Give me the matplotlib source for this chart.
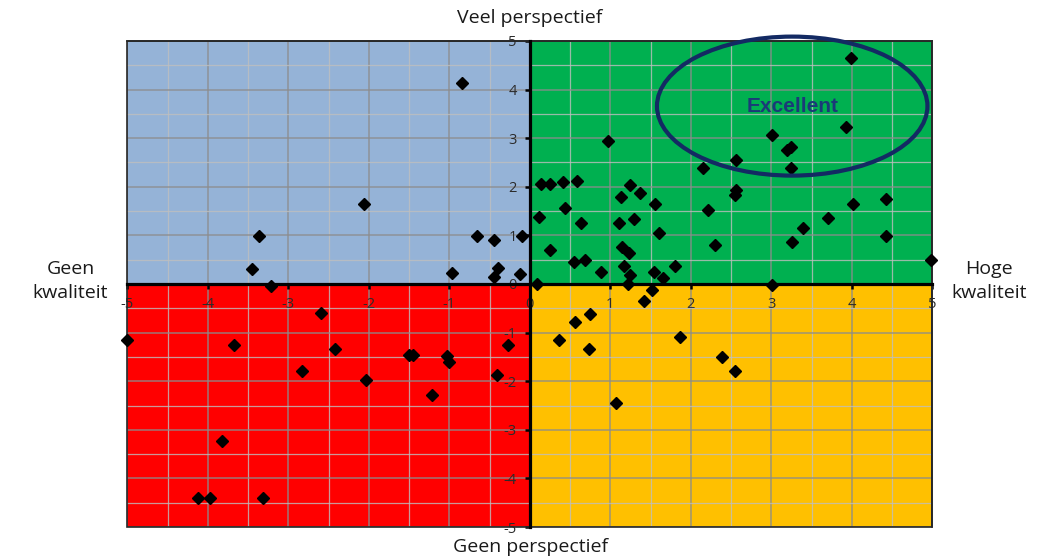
import matplotlib
matplotlib.use("Agg")
import matplotlib.pyplot as plt
from matplotlib.patches import Rectangle, Ellipse
from matplotlib.ticker import MultipleLocator

plt.rcParams['axes.unicode_minus'] = False

# ---- data ----
x_vals = [
    # upper-left
    -0.84, -2.06, -3.37, -3.45, -0.97, -0.65, -0.44, -0.39, -0.44, -0.10, -0.12, -3.22,
    # upper-right
    3.99, 3.93, 3.01, 3.19, 3.24, 3.24, 2.56, 2.15, 0.97, 0.145, 0.245, 0.41, 0.59,
    0.44, 0.11, 0.64, 0.245, 0.55, 0.68, 0.89, 1.13, 1.25, 1.37, 1.11, 1.29, 1.15,
    1.23, 1.17, 1.24, 1.56, 1.61, 1.54, 1.65, 1.81, 2.21, 2.30, 2.55, 2.56, 3.71,
    3.39, 3.26, 4.02, 4.42, 4.43, 4.99, 0.095,
    # lower-right
    1.22, 1.52, 1.42, 3.01, 0.75, 0.56, 0.36, 0.74, 1.87, 2.39, 2.55, 1.07,
    # lower-left
    -5.0, -3.67, -2.60, -2.42, -2.83, -2.04, -1.50, -1.45, -1.03, -1.01, -1.22,
    -0.41, -0.27, -3.82, -4.12, -3.97, -3.32,
]
y_vals = [
    4.14, 1.64, 0.99, 0.30, 0.23, 0.99, 0.91, 0.32, 0.15, 0.99, 0.21, -0.04,
    4.64, 3.24, 3.06, 2.76, 2.81, 2.39, 2.55, 2.39, 2.94, 2.06, 2.06, 2.09, 2.12,
    1.56, 1.38, 1.26, 0.69, 0.45, 0.50, 0.24, 1.79, 2.03, 1.88, 1.25, 1.34, 0.77,
    0.64, 0.38, 0.19, 1.65, 1.04, 0.24, 0.13, 0.38, 1.52, 0.81, 1.84, 1.93, 1.35,
    1.15, 0.86, 1.64, 1.74, 0.99, 0.50, 0.0,
    -0.01, -0.12, -0.36, -0.03, -0.62, -0.78, -1.16, -1.34, -1.10, -1.50, -1.80, -2.44,
    -1.15, -1.26, -0.59, -1.34, -1.80, -1.98, -1.46, -1.46, -1.48, -1.60, -2.28,
    -1.87, -1.26, -3.24, -4.40, -4.40, -4.40,
]
ticks = [-5, -4, -3, -2, -1, 0, 1, 2, 3, 4, 5]
tick_labels = [str(t) for t in ticks]
quadrant_colors = {'ul': '#95B3D7', 'ur': '#00B050', 'll': '#FF0000', 'lr': '#FFC000'}
label_top = "Veel perspectief"
label_bottom = "Geen perspectief"
label_left = "Geen\nkwaliteit"
label_right = "Hoge\nkwaliteit"
highlight_text = "Excellent"
highlight_center = (3.26, 3.66)
highlight_size = (3.36, 2.86)

# ---- figure ----
fig = plt.figure(figsize=(10.37, 5.59), dpi=100)
ax = fig.add_axes([0.1228, 0.0572, 0.7762, 0.8695])
ax.set_xlim(-5, 5)
ax.set_ylim(-5, 5)

ax.add_patch(Rectangle((-5, 0), 5, 5, fc=quadrant_colors['ul'], ec='none', zorder=0))
ax.add_patch(Rectangle((0, 0), 5, 5, fc=quadrant_colors['ur'], ec='none', zorder=0))
ax.add_patch(Rectangle((-5, -5), 5, 5, fc=quadrant_colors['ll'], ec='none', zorder=0))
ax.add_patch(Rectangle((0, -5), 5, 5, fc=quadrant_colors['lr'], ec='none', zorder=0))

ax.set_axisbelow(True)
ax.xaxis.set_major_locator(MultipleLocator(1))
ax.yaxis.set_major_locator(MultipleLocator(1))
ax.xaxis.set_minor_locator(MultipleLocator(0.5))
ax.yaxis.set_minor_locator(MultipleLocator(0.5))
ax.grid(which='major', color='#8C8C8C', lw=1.1, alpha=0.85)
ax.grid(which='minor', color='#BFBFBF', lw=0.9, alpha=0.8)

ax.set_xticks(ticks)
ax.set_xticklabels(tick_labels)
ax.set_yticks(ticks)
ax.set_yticklabels(tick_labels)

ax.spines['left'].set_position(('data', 0))
ax.spines['bottom'].set_position(('data', 0))
for s in ('left', 'bottom'):
    ax.spines[s].set_linewidth(2.3)
    ax.spines[s].set_color('black')
    ax.spines[s].set_zorder(2.6)
for s in ('top', 'right'):
    ax.spines[s].set_linewidth(1.2)
    ax.spines[s].set_color('#262626')
ax.add_patch(Rectangle((0, 0), 1, 1, transform=ax.transAxes, fill=False,
                       ec='#262626', lw=1.2, zorder=2.5, clip_on=False))

ax.tick_params(which='major', direction='out', length=3.5, width=1.8, color='black',
               labelsize=10.5, labelcolor='#2B2B2B', pad=6)
ax.tick_params(which='minor', length=0)
for lab in ax.get_xticklabels() + ax.get_yticklabels():
    lab.set_fontfamily('Open Sans')

ax.plot(x_vals, y_vals, ls='none', marker='D', ms=6.3, color='black', zorder=4, clip_on=False)

ell = Ellipse(highlight_center, highlight_size[0], highlight_size[1], fill=False,
              ec='#132A63', lw=3.0, zorder=5, clip_on=False)
ax.add_patch(ell)
ax.text(highlight_center[0], highlight_center[1], highlight_text, ha='center', va='center',
        fontsize=15, fontweight='bold', color='#1B3A78', family='Liberation Sans', zorder=6)

lab_kw = dict(fontsize=14, family='Open Sans', color='#1A1A1A', ha='center', va='center')
fig.text(0.5112, 0.968, label_top, **lab_kw)
fig.text(0.5112, 0.022, label_bottom, **lab_kw)
fig.text(0.068, 0.497, label_left, linespacing=1.4, **lab_kw)
fig.text(0.954, 0.497, label_right, linespacing=1.4, **lab_kw)

fig.savefig('out.png', dpi=100)
